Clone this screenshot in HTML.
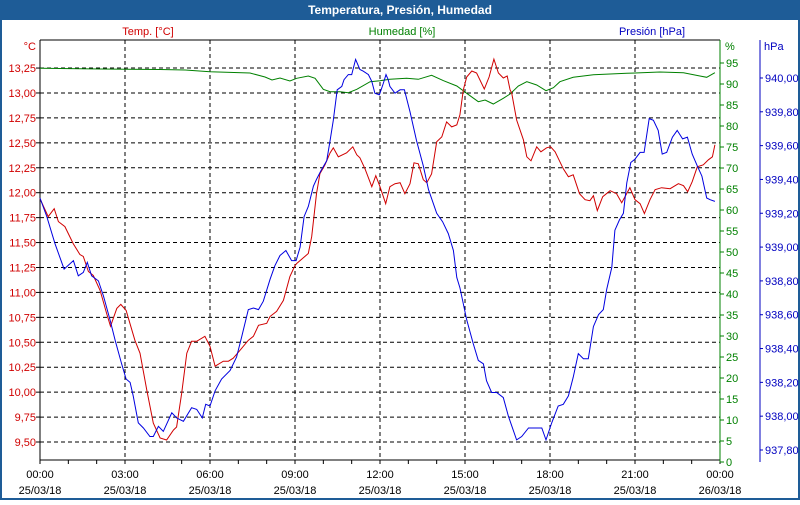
<!DOCTYPE html>
<html><head><meta charset="utf-8"><style>
body{margin:0;background:#fff;}
svg text{font-family:"Liberation Sans",sans-serif;font-size:11px;}
</style></head><body>
<svg width="800" height="500" viewBox="0 0 800 500" xmlns="http://www.w3.org/2000/svg">
<rect x="0" y="0" width="800" height="500" fill="#fff"/>
<rect x="0" y="0" width="800" height="20" fill="#1e5c97"/>
<rect x="0" y="20" width="2" height="480" fill="#1e5c97"/>
<rect x="798" y="20" width="2" height="480" fill="#1e5c97"/>
<rect x="0" y="498" width="800" height="2" fill="#1e5c97"/>
<text x="400" y="14" text-anchor="middle" fill="#fff" font-weight="bold" style="font-size:12px">Temperatura, Presión, Humedad</text>
<text x="148" y="35" text-anchor="middle" fill="#d00000">Temp. [°C]</text>
<text x="402" y="35" text-anchor="middle" fill="#008000">Humedad [%]</text>
<text x="652" y="35" text-anchor="middle" fill="#0000c0">Presión [hPa]</text>
<text x="36" y="50" text-anchor="end" fill="#d00000">°C</text>
<text x="725" y="50" fill="#008000">%</text>
<text x="764" y="50" fill="#0000c0">hPa</text>
<g id="grid"></g>
<g id="axes"></g>
<g id="series"></g>
</svg>
<script>
const xTickLabels = ["00:00","03:00","06:00","09:00","12:00","15:00","18:00","21:00","00:00"];
const xDateLabels = ["25/03/18","25/03/18","25/03/18","25/03/18","25/03/18","25/03/18","25/03/18","25/03/18","26/03/18"];
const tempTicks = [9.50,9.75,10.00,10.25,10.50,10.75,11.00,11.25,11.50,11.75,12.00,12.25,12.50,12.75,13.00,13.25];
const humTicks = [0,5,10,15,20,25,30,35,40,45,50,55,60,65,70,75,80,85,90,95];
const presTicks = [937.8,938.0,938.2,938.4,938.6,938.8,939.0,939.2,939.4,939.6,939.8,940.0];

const tempHours = [0,.29,.50,.65,.88,1.17,1.41,1.53,1.71,1.88,2.12,2.35,2.49,2.71,2.85,3.04,3.35,3.53,3.77,4.0,4.24,4.47,4.71,4.82,5.0,5.18,5.35,5.53,5.82,6.0,6.18,6.47,6.65,6.82,7.06,7.35,7.53,7.71,8.0,8.12,8.35,8.59,8.82,9.0,9.06,9.47,9.59,9.76,9.88,10.06,10.24,10.35,10.53,10.82,11.04,11.18,11.29,11.47,11.71,11.85,12.0,12.2,12.35,12.53,12.71,12.88,13.06,13.2,13.35,13.53,13.65,13.82,14.0,14.18,14.35,14.53,14.71,14.82,14.94,15.06,15.24,15.41,15.68,15.85,16.02,16.18,16.35,16.49,16.59,16.65,16.82,17.06,17.18,17.33,17.53,17.68,17.88,18.02,18.18,18.47,18.65,18.82,19.04,19.24,19.41,19.53,19.67,19.86,20.12,20.35,20.53,20.82,21.0,21.18,21.33,21.53,21.71,21.94,22.24,22.53,22.71,22.86,23.02,23.2,23.41,23.59,23.73,23.82];
const tempValues = [11.94,11.76,11.84,11.71,11.66,11.49,11.38,11.36,11.21,11.17,11.02,10.79,10.66,10.84,10.88,10.82,10.52,10.39,10.02,9.69,9.54,9.52,9.62,9.65,9.99,10.39,10.51,10.51,10.56,10.46,10.26,10.31,10.31,10.34,10.42,10.52,10.56,10.67,10.69,10.76,10.81,10.92,11.16,11.27,11.29,11.39,11.56,11.99,12.19,12.28,12.40,12.45,12.36,12.40,12.46,12.38,12.35,12.24,12.06,12.17,12.06,11.89,12.06,12.09,12.10,11.99,12.09,12.30,12.29,12.13,12.10,12.19,12.51,12.56,12.71,12.66,12.68,12.78,13.03,13.16,13.22,13.20,13.04,13.16,13.34,13.20,13.15,13.17,13.03,13.00,12.73,12.53,12.36,12.32,12.46,12.41,12.45,12.46,12.41,12.24,12.16,12.18,11.99,11.93,11.92,11.97,11.82,11.96,12.02,11.99,11.90,12.05,11.93,11.89,11.79,11.93,12.03,12.05,12.04,12.09,12.07,12.01,12.11,12.26,12.28,12.33,12.36,12.48];

const presHours = [0,.24,.53,.85,1.18,1.35,1.53,1.67,1.82,2.06,2.24,2.47,2.65,2.88,3.04,3.18,3.29,3.47,3.65,3.88,4.0,4.18,4.35,4.65,4.82,5.06,5.35,5.53,5.73,5.85,6.0,6.18,6.41,6.71,6.94,7.12,7.35,7.53,7.71,7.88,8.12,8.29,8.47,8.68,8.88,9.04,9.18,9.32,9.47,9.65,9.76,9.91,10.12,10.24,10.35,10.49,10.65,10.73,10.88,11.0,11.14,11.29,11.41,11.59,11.71,11.82,11.98,12.12,12.21,12.29,12.35,12.53,12.71,12.86,13.06,13.29,13.53,13.71,14.0,14.21,14.41,14.59,14.71,14.82,15.06,15.29,15.47,15.65,15.76,15.94,16.12,16.35,16.53,16.82,17.0,17.24,17.53,17.71,17.86,18.06,18.29,18.47,18.65,18.82,19.0,19.18,19.35,19.53,19.71,19.88,20.0,20.18,20.29,20.45,20.59,20.71,20.85,21.0,21.18,21.32,21.5,21.65,21.82,21.96,22.12,22.32,22.49,22.68,22.85,23.02,23.2,23.36,23.53,23.65,23.82];
const presValues = [939.29,939.18,939.02,938.87,938.92,938.83,938.85,938.91,938.83,938.80,938.71,938.57,938.45,938.31,938.22,938.20,938.12,937.96,937.93,937.88,937.88,937.94,937.91,938.02,937.99,937.97,938.05,938.04,937.99,938.07,938.06,938.15,938.22,938.27,938.35,938.47,938.63,938.64,938.63,938.68,938.81,938.89,938.95,938.98,938.92,938.92,939.00,939.18,939.24,939.36,939.40,939.45,939.51,939.63,939.75,939.93,939.95,939.99,940.02,940.02,940.11,940.05,940.04,940.02,939.98,939.91,939.90,939.97,940.02,939.99,939.95,939.91,939.93,939.93,939.80,939.63,939.48,939.34,939.20,939.15,939.08,938.98,938.82,938.76,938.57,938.43,938.33,938.31,938.21,938.14,938.14,938.11,938.00,937.86,937.88,937.93,937.93,937.93,937.86,937.96,938.06,938.07,938.12,938.23,938.37,938.34,938.34,938.53,938.60,938.63,938.75,938.88,939.10,939.16,939.20,939.38,939.50,939.52,939.56,939.56,939.76,939.75,939.69,939.55,939.56,939.65,939.69,939.64,939.65,939.55,939.48,939.42,939.29,939.28,939.27];

const humHours = [0,2.12,4.24,5.12,6.0,7.41,7.94,8.19,8.47,8.82,9.06,9.47,9.71,10.0,10.24,10.59,10.88,11.18,11.65,12.0,12.35,12.94,13.35,13.82,14.24,14.71,15.06,15.47,15.71,16.0,16.35,16.59,16.88,17.18,17.53,17.86,18.12,18.35,18.82,19.53,20.71,21.88,22.71,23.29,23.53,23.82];
const humValues = [93.74,93.57,93.45,93.33,92.93,92.62,91.67,90.95,91.43,90.71,91.36,91.90,91.36,88.74,88.17,88.17,87.93,88.74,90.55,90.79,91.12,91.36,91.12,92.07,90.79,89.52,87.79,85.79,86.19,85.24,86.59,87.62,89.52,90.55,89.76,88.40,89.12,90.55,91.60,92.21,92.55,92.86,92.69,91.90,91.60,92.69];

const NS = "http://www.w3.org/2000/svg";
const X0 = 40, X1 = 720, Y0 = 40, YB = 460;
const xScale = h => X0 + h * (X1 - X0) / 24;
const yTemp = v => 442 - (v - 9.5) / 0.25 * 24.93;
const yHum = v => 462 - v * 4.2;
const yPres = v => 450 - (v - 937.8) / 0.2 * 33.82;

function mk(tag, attrs, parent) {
  const e = document.createElementNS(NS, tag);
  for (const k in attrs) e.setAttribute(k, attrs[k]);
  parent.appendChild(e);
  return e;
}
const grid = document.getElementById('grid');
const axes = document.getElementById('axes');
const series = document.getElementById('series');

// vertical grid + x labels
xTickLabels.forEach((lab, i) => {
  const x = xScale(i * 3);
  if (i > 0 && i < xTickLabels.length - 1) {
    const l = mk('line', {x1: x, y1: Y0, x2: x, y2: YB, stroke: '#000', 'stroke-dasharray': '4,3', 'stroke-width': 1}, grid);
    
    
  }
  const t1 = mk('text', {x: x, y: 478, 'text-anchor': 'middle', fill: '#000'}, axes);
  t1.textContent = lab;
  
  
  const t2 = mk('text', {x: x, y: 494, 'text-anchor': 'middle', fill: '#000'}, axes);
  t2.textContent = xDateLabels[i];
  
  
});
// hourly ticks
for (let h = 0; h <= 24; h++) {
  const x = xScale(h);
  const tk = mk('line', {x1: x, y1: YB, x2: x, y2: YB + 4, stroke: '#000'}, axes);
  
  
}
// temp grid + labels
tempTicks.forEach(v => {
  const y = yTemp(v);
  const l = mk('line', {x1: X0, y1: y, x2: X1, y2: y, stroke: '#000', 'stroke-dasharray': '4,3'}, grid);
  
  
  const tk = mk('line', {x1: X0 - 4, y1: y, x2: X0, y2: y, stroke: '#000'}, axes);
  
  
  const t = mk('text', {x: 36, y: y + 4, 'text-anchor': 'end', fill: '#d00000'}, axes);
  t.textContent = v.toFixed(2).replace('.', ',');
  
  
});
humTicks.forEach(v => {
  const y = yHum(v);
  const tk = mk('line', {x1: X1, y1: y, x2: X1 + 4, y2: y, stroke: '#008000'}, axes);
  
  
  const t = mk('text', {x: 726, y: y + 4, fill: '#008000'}, axes);
  t.textContent = String(v);
  
  
});
presTicks.forEach(v => {
  const y = yPres(v);
  const tk = mk('line', {x1: 760, y1: y, x2: 763, y2: y, stroke: '#0000c0'}, axes);
  
  
  const t = mk('text', {x: 765, y: y + 4, fill: '#0000c0'}, axes);
  t.textContent = v.toFixed(2).replace('.', ',');
  
  
});
// axis lines
let a;
a = mk('line', {x1: X0, y1: Y0, x2: X1, y2: Y0, stroke: '#000'}, axes);
 
a = mk('line', {x1: X0, y1: Y0, x2: X0, y2: YB, stroke: '#000'}, axes);
 
a = mk('line', {x1: X0, y1: YB, x2: X1, y2: YB, stroke: '#000'}, axes);
 
a = mk('line', {x1: X1, y1: Y0, x2: X1, y2: 462, stroke: '#008000'}, axes);
 
a = mk('line', {x1: 760, y1: Y0, x2: 760, y2: 462, stroke: '#0000c0'}, axes);
 

function pts(hours, vals, yf) { return hours.map((h, i) => xScale(h).toFixed(1) + ',' + yf(vals[i]).toFixed(1)).join(' '); }
const ph = mk('polyline', {points: pts(humHours, humValues, yHum), fill: 'none', stroke: '#008000', 'stroke-width': 1}, series);


const pt = mk('polyline', {points: pts(tempHours, tempValues, yTemp), fill: 'none', stroke: '#d00000', 'stroke-width': 1}, series);


const pp = mk('polyline', {points: pts(presHours, presValues, yPres), fill: 'none', stroke: '#0000e0', 'stroke-width': 1}, series);


</script>
</body></html>
